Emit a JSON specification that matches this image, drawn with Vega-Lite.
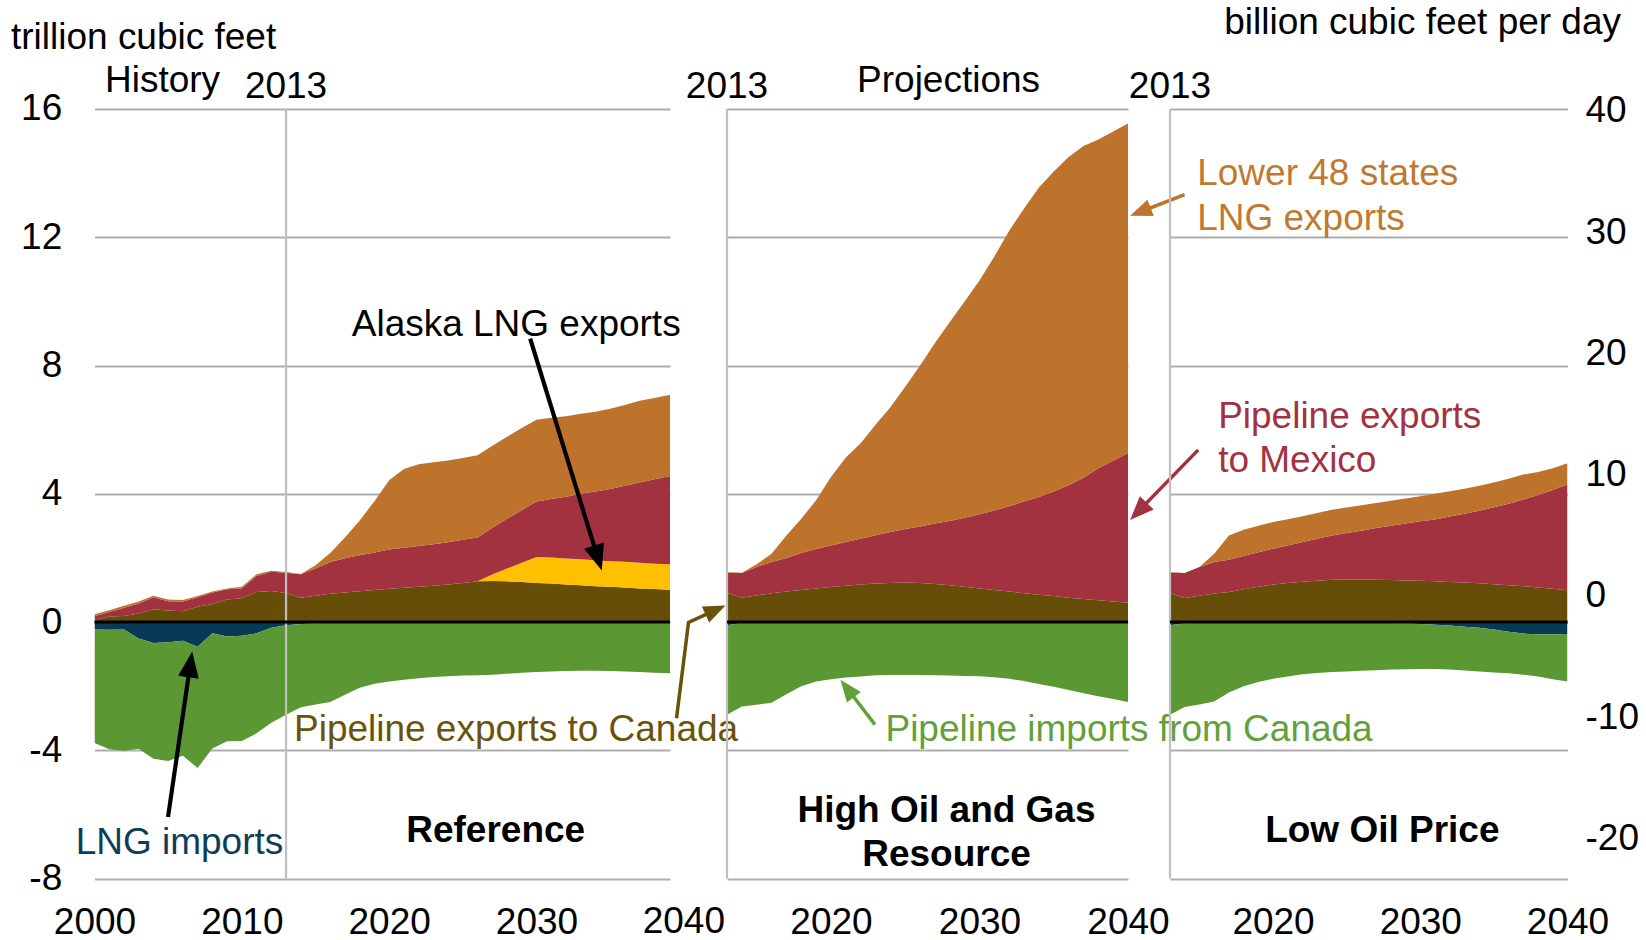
{
"$schema":"https://vega.github.io/schema/vega-lite/v6.json",
"autosize":{"type":"pad"},
"padding":{"left":10.5,"top":3,"right":4,"bottom":0},
"background":"white",
"config":{
  "font":"Liberation Sans",
  "view":{"stroke":null},
  "axis":{"domain":false,"ticks":false,"tickSize":0,"labelFontSize":37,"labelColor":"#000000","labelFlush":false,"labelOverlap":false,"gridColor":"#ADADAD","gridWidth":2.2,"titleFontSize":37,"titleFontWeight":"normal","titleColor":"#000000","labelExpr":"'' + datum.value"}
},
"datasets":{"flows":[
{"case":"Reference","year":2000,"p1":0.07,"p2":0,"p3":0.11,"p4":0.06,"n1":-0.23,"n2":-3.54},
{"case":"Reference","year":2001,"p1":0.17,"p2":0,"p3":0.14,"p4":0.06,"n1":-0.24,"n2":-3.73},
{"case":"Reference","year":2002,"p1":0.19,"p2":0,"p3":0.26,"p4":0.06,"n1":-0.23,"n2":-3.78},
{"case":"Reference","year":2003,"p1":0.27,"p2":0,"p3":0.31,"p4":0.06,"n1":-0.51,"n2":-3.44},
{"case":"Reference","year":2004,"p1":0.40,"p2":0,"p3":0.37,"p4":0.05,"n1":-0.65,"n2":-3.61},
{"case":"Reference","year":2005,"p1":0.36,"p2":0,"p3":0.29,"p4":0.05,"n1":-0.63,"n2":-3.70},
{"case":"Reference","year":2006,"p1":0.34,"p2":0,"p3":0.30,"p4":0.05,"n1":-0.58,"n2":-3.59},
{"case":"Reference","year":2007,"p1":0.48,"p2":0,"p3":0.29,"p4":0.04,"n1":-0.77,"n2":-3.78},
{"case":"Reference","year":2008,"p1":0.56,"p2":0,"p3":0.36,"p4":0.03,"n1":-0.35,"n2":-3.59},
{"case":"Reference","year":2009,"p1":0.70,"p2":0,"p3":0.32,"p4":0.03,"n1":-0.45,"n2":-3.27},
{"case":"Reference","year":2010,"p1":0.74,"p2":0,"p3":0.31,"p4":0.05,"n1":-0.43,"n2":-3.28},
{"case":"Reference","year":2011,"p1":0.94,"p2":0,"p3":0.50,"p4":0.05,"n1":-0.35,"n2":-3.12},
{"case":"Reference","year":2012,"p1":0.97,"p2":0,"p3":0.60,"p4":0.03,"n1":-0.18,"n2":-2.96},
{"case":"Reference","year":2013,"p1":0.91,"p2":0,"p3":0.63,"p4":0.02,"n1":-0.10,"n2":-2.79},
{"case":"Reference","year":2014,"p1":0.76,"p2":0,"p3":0.73,"p4":0.01,"n1":-0.06,"n2":-2.60},
{"case":"Reference","year":2015,"p1":0.82,"p2":0,"p3":0.85,"p4":0.10,"n1":-0.04,"n2":-2.53},
{"case":"Reference","year":2016,"p1":0.88,"p2":0,"p3":0.99,"p4":0.28,"n1":-0.02,"n2":-2.47},
{"case":"Reference","year":2017,"p1":0.92,"p2":0,"p3":1.07,"p4":0.65,"n1":-0.02,"n2":-2.25},
{"case":"Reference","year":2018,"p1":0.96,"p2":0,"p3":1.12,"p4":1.09,"n1":-0.02,"n2":-2.03},
{"case":"Reference","year":2019,"p1":1.00,"p2":0,"p3":1.17,"p4":1.60,"n1":-0.02,"n2":-1.90},
{"case":"Reference","year":2020,"p1":1.04,"p2":0,"p3":1.22,"p4":2.16,"n1":-0.02,"n2":-1.83},
{"case":"Reference","year":2021,"p1":1.07,"p2":0,"p3":1.25,"p4":2.45,"n1":-0.02,"n2":-1.78},
{"case":"Reference","year":2022,"p1":1.10,"p2":0,"p3":1.27,"p4":2.55,"n1":-0.02,"n2":-1.73},
{"case":"Reference","year":2023,"p1":1.13,"p2":0,"p3":1.30,"p4":2.55,"n1":-0.02,"n2":-1.69},
{"case":"Reference","year":2024,"p1":1.17,"p2":0,"p3":1.32,"p4":2.55,"n1":-0.02,"n2":-1.67},
{"case":"Reference","year":2025,"p1":1.22,"p2":0,"p3":1.35,"p4":2.55,"n1":-0.02,"n2":-1.65},
{"case":"Reference","year":2026,"p1":1.27,"p2":0,"p3":1.37,"p4":2.56,"n1":-0.02,"n2":-1.64},
{"case":"Reference","year":2027,"p1":1.28,"p2":0.20,"p3":1.46,"p4":2.56,"n1":-0.02,"n2":-1.62},
{"case":"Reference","year":2028,"p1":1.27,"p2":0.40,"p3":1.55,"p4":2.56,"n1":-0.02,"n2":-1.59},
{"case":"Reference","year":2029,"p1":1.25,"p2":0.60,"p3":1.64,"p4":2.56,"n1":-0.02,"n2":-1.56},
{"case":"Reference","year":2030,"p1":1.22,"p2":0.81,"p3":1.73,"p4":2.55,"n1":-0.02,"n2":-1.54},
{"case":"Reference","year":2031,"p1":1.20,"p2":0.81,"p3":1.83,"p4":2.53,"n1":-0.02,"n2":-1.52},
{"case":"Reference","year":2032,"p1":1.17,"p2":0.81,"p3":1.93,"p4":2.51,"n1":-0.02,"n2":-1.51},
{"case":"Reference","year":2033,"p1":1.15,"p2":0.81,"p3":2.04,"p4":2.50,"n1":-0.02,"n2":-1.50},
{"case":"Reference","year":2034,"p1":1.12,"p2":0.81,"p3":2.14,"p4":2.49,"n1":-0.02,"n2":-1.50},
{"case":"Reference","year":2035,"p1":1.10,"p2":0.80,"p3":2.25,"p4":2.50,"n1":-0.02,"n2":-1.51},
{"case":"Reference","year":2036,"p1":1.08,"p2":0.80,"p3":2.37,"p4":2.52,"n1":-0.02,"n2":-1.52},
{"case":"Reference","year":2037,"p1":1.05,"p2":0.80,"p3":2.50,"p4":2.55,"n1":-0.02,"n2":-1.54},
{"case":"Reference","year":2038,"p1":1.03,"p2":0.79,"p3":2.63,"p4":2.54,"n1":-0.02,"n2":-1.56},
{"case":"Reference","year":2039,"p1":1.01,"p2":0.79,"p3":2.75,"p4":2.53,"n1":-0.02,"n2":-1.58},
{"case":"Reference","year":2040,"p1":0.98,"p2":0.78,"p3":2.88,"p4":2.52,"n1":-0.02,"n2":-1.61},
{"case":"High","year":2013,"p1":0.91,"p2":0,"p3":0.63,"p4":0.02,"n1":-0.10,"n2":-2.79},
{"case":"High","year":2014,"p1":0.76,"p2":0,"p3":0.77,"p4":0.01,"n1":-0.03,"n2":-2.60},
{"case":"High","year":2015,"p1":0.83,"p2":0,"p3":0.89,"p4":0.08,"n1":-0.02,"n2":-2.56},
{"case":"High","year":2016,"p1":0.90,"p2":0,"p3":0.97,"p4":0.26,"n1":-0.02,"n2":-2.50},
{"case":"High","year":2017,"p1":0.95,"p2":0,"p3":1.05,"p4":0.70,"n1":-0.02,"n2":-2.23},
{"case":"High","year":2018,"p1":1.00,"p2":0,"p3":1.15,"p4":1.07,"n1":-0.02,"n2":-1.98},
{"case":"High","year":2019,"p1":1.05,"p2":0,"p3":1.23,"p4":1.52,"n1":-0.02,"n2":-1.83},
{"case":"High","year":2020,"p1":1.09,"p2":0,"p3":1.30,"p4":2.13,"n1":-0.02,"n2":-1.76},
{"case":"High","year":2021,"p1":1.13,"p2":0,"p3":1.37,"p4":2.63,"n1":-0.02,"n2":-1.71},
{"case":"High","year":2022,"p1":1.17,"p2":0,"p3":1.43,"p4":2.98,"n1":-0.02,"n2":-1.68},
{"case":"High","year":2023,"p1":1.20,"p2":0,"p3":1.51,"p4":3.44,"n1":-0.02,"n2":-1.64},
{"case":"High","year":2024,"p1":1.22,"p2":0,"p3":1.59,"p4":3.89,"n1":-0.02,"n2":-1.63},
{"case":"High","year":2025,"p1":1.23,"p2":0,"p3":1.67,"p4":4.44,"n1":-0.02,"n2":-1.63},
{"case":"High","year":2026,"p1":1.22,"p2":0,"p3":1.76,"p4":5.02,"n1":-0.02,"n2":-1.63},
{"case":"High","year":2027,"p1":1.19,"p2":0,"p3":1.88,"p4":5.63,"n1":-0.02,"n2":-1.64},
{"case":"High","year":2028,"p1":1.15,"p2":0,"p3":2.00,"p4":6.21,"n1":-0.02,"n2":-1.65},
{"case":"High","year":2029,"p1":1.10,"p2":0,"p3":2.15,"p4":6.75,"n1":-0.02,"n2":-1.66},
{"case":"High","year":2030,"p1":1.05,"p2":0,"p3":2.31,"p4":7.29,"n1":-0.02,"n2":-1.67},
{"case":"High","year":2031,"p1":1.00,"p2":0,"p3":2.48,"p4":7.92,"n1":-0.02,"n2":-1.70},
{"case":"High","year":2032,"p1":0.95,"p2":0,"p3":2.66,"p4":8.59,"n1":-0.02,"n2":-1.75},
{"case":"High","year":2033,"p1":0.90,"p2":0,"p3":2.86,"p4":9.14,"n1":-0.02,"n2":-1.82},
{"case":"High","year":2034,"p1":0.85,"p2":0,"p3":3.05,"p4":9.65,"n1":-0.02,"n2":-1.91},
{"case":"High","year":2035,"p1":0.81,"p2":0,"p3":3.26,"p4":9.98,"n1":-0.02,"n2":-2.00},
{"case":"High","year":2036,"p1":0.76,"p2":0,"p3":3.51,"p4":10.23,"n1":-0.02,"n2":-2.10},
{"case":"High","year":2037,"p1":0.72,"p2":0,"p3":3.78,"p4":10.35,"n1":-0.02,"n2":-2.20},
{"case":"High","year":2038,"p1":0.68,"p2":0,"p3":4.12,"p4":10.25,"n1":-0.02,"n2":-2.29},
{"case":"High","year":2039,"p1":0.64,"p2":0,"p3":4.39,"p4":10.27,"n1":-0.02,"n2":-2.38},
{"case":"High","year":2040,"p1":0.60,"p2":0,"p3":4.67,"p4":10.28,"n1":-0.02,"n2":-2.47},
{"case":"Low","year":2013,"p1":0.91,"p2":0,"p3":0.63,"p4":0.02,"n1":-0.10,"n2":-2.79},
{"case":"Low","year":2014,"p1":0.75,"p2":0,"p3":0.78,"p4":0.00,"n1":-0.04,"n2":-2.61},
{"case":"Low","year":2015,"p1":0.82,"p2":0,"p3":0.90,"p4":0.00,"n1":-0.03,"n2":-2.54},
{"case":"Low","year":2016,"p1":0.89,"p2":0,"p3":0.98,"p4":0.26,"n1":-0.03,"n2":-2.45},
{"case":"Low","year":2017,"p1":0.94,"p2":0,"p3":1.00,"p4":0.76,"n1":-0.03,"n2":-2.17},
{"case":"Low","year":2018,"p1":1.02,"p2":0,"p3":1.04,"p4":0.82,"n1":-0.03,"n2":-1.97},
{"case":"Low","year":2019,"p1":1.10,"p2":0,"p3":1.08,"p4":0.82,"n1":-0.03,"n2":-1.84},
{"case":"Low","year":2020,"p1":1.17,"p2":0,"p3":1.12,"p4":0.83,"n1":-0.03,"n2":-1.74},
{"case":"Low","year":2021,"p1":1.22,"p2":0,"p3":1.17,"p4":0.82,"n1":-0.03,"n2":-1.67},
{"case":"Low","year":2022,"p1":1.26,"p2":0,"p3":1.24,"p4":0.80,"n1":-0.03,"n2":-1.60},
{"case":"Low","year":2023,"p1":1.29,"p2":0,"p3":1.31,"p4":0.80,"n1":-0.03,"n2":-1.56},
{"case":"Low","year":2024,"p1":1.32,"p2":0,"p3":1.38,"p4":0.80,"n1":-0.03,"n2":-1.53},
{"case":"Low","year":2025,"p1":1.33,"p2":0,"p3":1.45,"p4":0.79,"n1":-0.03,"n2":-1.51},
{"case":"Low","year":2026,"p1":1.33,"p2":0,"p3":1.52,"p4":0.79,"n1":-0.03,"n2":-1.49},
{"case":"Low","year":2027,"p1":1.32,"p2":0,"p3":1.61,"p4":0.78,"n1":-0.03,"n2":-1.47},
{"case":"Low","year":2028,"p1":1.31,"p2":0,"p3":1.69,"p4":0.78,"n1":-0.03,"n2":-1.45},
{"case":"Low","year":2029,"p1":1.30,"p2":0,"p3":1.77,"p4":0.78,"n1":-0.04,"n2":-1.43},
{"case":"Low","year":2030,"p1":1.29,"p2":0,"p3":1.85,"p4":0.78,"n1":-0.06,"n2":-1.40},
{"case":"Low","year":2031,"p1":1.27,"p2":0,"p3":1.93,"p4":0.80,"n1":-0.08,"n2":-1.38},
{"case":"Low","year":2032,"p1":1.25,"p2":0,"p3":2.04,"p4":0.79,"n1":-0.11,"n2":-1.37},
{"case":"Low","year":2033,"p1":1.23,"p2":0,"p3":2.15,"p4":0.78,"n1":-0.15,"n2":-1.36},
{"case":"Low","year":2034,"p1":1.21,"p2":0,"p3":2.26,"p4":0.78,"n1":-0.18,"n2":-1.36},
{"case":"Low","year":2035,"p1":1.18,"p2":0,"p3":2.40,"p4":0.77,"n1":-0.23,"n2":-1.34},
{"case":"Low","year":2036,"p1":1.15,"p2":0,"p3":2.54,"p4":0.78,"n1":-0.30,"n2":-1.30},
{"case":"Low","year":2037,"p1":1.12,"p2":0,"p3":2.70,"p4":0.78,"n1":-0.36,"n2":-1.28},
{"case":"Low","year":2038,"p1":1.08,"p2":0,"p3":2.88,"p4":0.72,"n1":-0.38,"n2":-1.32},
{"case":"Low","year":2039,"p1":1.04,"p2":0,"p3":3.08,"p4":0.68,"n1":-0.38,"n2":-1.40},
{"case":"Low","year":2040,"p1":0.99,"p2":0,"p3":3.30,"p4":0.66,"n1":-0.37,"n2":-1.48}
]},
"spacing":56.5,
"bounds":"flush",
"hconcat":[
{
 "width":575.5,"height":769.6,
 "layer":[
  {"data":{"name":"flows"},
   "transform":[{"filter":"datum.case === 'Reference'"},{"fold":["p1","p2","p3","p4","n1","n2"],"as":["series","value"]}],
   "mark":{"type":"area","clip":true},
   "encoding":{
    "x":{"field":"year","type":"quantitative","scale":{"domain":[2000,2039.06],"nice":false,"zero":false},"axis":{"values":[2000,2010,2020,2030],"title":null,"labelPadding":54.5,"labelBaseline":"alphabetic","labelAlign":"center","grid":false}},
    "y":{"field":"value","type":"quantitative","stack":"zero","scale":{"domain":[-8,16],"nice":false,"zero":false},"axis":{"values":[-8,-4,0,4,8,12,16],"grid":true,"labelPadding":32.8,"labelBaseline":"middle","labelAlign":"right","title":"trillion cubic feet","titleAngle":0,"titleAlign":"left","titleBaseline":"alphabetic","titleX":-84,"titleY":-60.4}},
    "color":{"field":"series","type":"nominal","scale":{"domain":["p1","p2","p3","p4","n1","n2"],"range":["#664E08","#FFC000","#A33241","#BD732B","#073A55","#5B9834"]},"legend":null},
    "order":{"field":"series","type":"ordinal","sort":"ascending"}
   }},
  {"data":{"values":[{"year":2013}]},"mark":{"type":"rule","color":"#BFBFBF","strokeWidth":2.2},
   "encoding":{"x":{"field":"year","type":"quantitative","scale":{"domain":[2000,2039.06],"nice":false,"zero":false}}}},
  {"data":{"values":[{"value":0}]},"mark":{"type":"rule","color":"#000000","strokeWidth":3},
   "encoding":{"y":{"field":"value","type":"quantitative","scale":{"domain":[-8,16],"nice":false,"zero":false}}}},
  {"data":{"values":[{"label":"History","year":2000.71,"value":16.54}]},
   "mark":{"type":"text","align":"left","baseline":"alphabetic","fontSize":37,"color":"#000000"},
   "encoding":{"x":{"field":"year","type":"quantitative","scale":{"domain":[2000,2039.06],"nice":false,"zero":false}},"y":{"field":"value","type":"quantitative","scale":{"domain":[-8,16],"nice":false,"zero":false}},"text":{"field":"label"}}},
  {"data":{"values":[{"label":"2013","year":2013,"value":16.33},{"label":"2040","year":2040,"value":-9.69}]},
   "mark":{"type":"text","align":"center","baseline":"alphabetic","fontSize":37,"color":"#000000"},
   "encoding":{"x":{"field":"year","type":"quantitative","scale":{"domain":[2000,2039.06],"nice":false,"zero":false}},"y":{"field":"value","type":"quantitative","scale":{"domain":[-8,16],"nice":false,"zero":false}},"text":{"field":"label"}}},
  {"data":{"values":[{"label":"Alaska LNG exports","year":2017.46,"value":9.26}]},
   "mark":{"type":"text","align":"left","baseline":"middle","fontSize":37,"color":"#000000"},
   "encoding":{"x":{"field":"year","type":"quantitative","scale":{"domain":[2000,2039.06],"nice":false,"zero":false}},"y":{"field":"value","type":"quantitative","scale":{"domain":[-8,16],"nice":false,"zero":false}},"text":{"field":"label"}}},
  {"data":{"values":[{"label":"Pipeline exports to Canada","year":2013.54,"value":-3.36}]},
   "mark":{"type":"text","align":"left","baseline":"middle","fontSize":37,"color":"#6B5209"},
   "encoding":{"x":{"field":"year","type":"quantitative","scale":{"domain":[2000,2039.06],"nice":false,"zero":false}},"y":{"field":"value","type":"quantitative","scale":{"domain":[-8,16],"nice":false,"zero":false}},"text":{"field":"label"}}},
  {"data":{"values":[{"label":"LNG imports","year":1998.72,"value":-6.9}]},
   "mark":{"type":"text","align":"left","baseline":"middle","fontSize":37,"color":"#0E3D5A"},
   "encoding":{"x":{"field":"year","type":"quantitative","scale":{"domain":[2000,2039.06],"nice":false,"zero":false}},"y":{"field":"value","type":"quantitative","scale":{"domain":[-8,16],"nice":false,"zero":false}},"text":{"field":"label"}}},
  {"data":{"values":[{"label":"Reference","year":2027.23,"value":-6.51}]},
   "mark":{"type":"text","align":"center","baseline":"middle","fontSize":37,"fontWeight":"bold","color":"#000000"},
   "encoding":{"x":{"field":"year","type":"quantitative","scale":{"domain":[2000,2039.06],"nice":false,"zero":false}},"y":{"field":"value","type":"quantitative","scale":{"domain":[-8,16],"nice":false,"zero":false}},"text":{"field":"label"}}},
  {"data":{"values":[{"year":2029.57,"value":8.84,"year2":2034.22,"value2":1.91},{"year":2004.99,"value":-6.08,"year2":2006.53,"value2":-1.22}]},
   "mark":{"type":"rule","color":"#000000","strokeWidth":4.2},
   "encoding":{"x":{"field":"year","type":"quantitative","scale":{"domain":[2000,2039.06],"nice":false,"zero":false}},"y":{"field":"value","type":"quantitative","scale":{"domain":[-8,16],"nice":false,"zero":false}},"x2":{"field":"year2"},"y2":{"field":"value2"}}},
  {"data":{"values":[{"year":2034.43,"value":1.61}]},
   "mark":{"type":"point","shape":"M0,0L-0.8,2L0.8,2Z","filled":true,"color":"#000000","opacity":1,"size":676,"angle":162.6,"strokeWidth":0},
   "encoding":{"x":{"field":"year","type":"quantitative","scale":{"domain":[2000,2039.06],"nice":false,"zero":false}},"y":{"field":"value","type":"quantitative","scale":{"domain":[-8,16],"nice":false,"zero":false}}}},
  {"data":{"values":[{"year":2006.63,"value":-0.92}]},
   "mark":{"type":"point","shape":"M0,0L-0.8,2L0.8,2Z","filled":true,"color":"#000000","opacity":1,"size":676,"angle":8.3,"strokeWidth":0},
   "encoding":{"x":{"field":"year","type":"quantitative","scale":{"domain":[2000,2039.06],"nice":false,"zero":false}},"y":{"field":"value","type":"quantitative","scale":{"domain":[-8,16],"nice":false,"zero":false}}}}
 ]
},
{
 "spacing":42,
 "bounds":"flush",
 "hconcat":[
 {
  "width":401,"height":769.6,
  "layer":[
   {"data":{"name":"flows"},
    "transform":[{"filter":"datum.case === 'High'"},{"fold":["p1","p2","p3","p4","n1","n2"],"as":["series","value"]}],
    "mark":{"type":"area","clip":true},
    "encoding":{
     "x":{"field":"year","type":"quantitative","scale":{"domain":[2013,2040],"nice":false,"zero":false},"axis":{"values":[2020,2030,2040],"title":null,"labelPadding":54.5,"labelBaseline":"alphabetic","labelAlign":"center","grid":false}},
     "y":{"field":"value","type":"quantitative","stack":"zero","scale":{"domain":[-8,16],"nice":false,"zero":false},"axis":{"values":[-8,-4,0,4,8,12,16],"grid":true,"labels":false,"title":null}},
     "color":{"field":"series","type":"nominal","scale":{"domain":["p1","p2","p3","p4","n1","n2"],"range":["#664E08","#FFC000","#A33241","#BD732B","#073A55","#5B9834"]},"legend":null},
     "order":{"field":"series","type":"ordinal","sort":"ascending"}
    }},
   {"data":{"values":[{"year":2013}]},"mark":{"type":"rule","color":"#BFBFBF","strokeWidth":2.2},
    "encoding":{"x":{"field":"year","type":"quantitative","scale":{"domain":[2013,2040],"nice":false,"zero":false}}}},
   {"data":{"values":[{"value":0}]},"mark":{"type":"rule","color":"#000000","strokeWidth":3},
    "encoding":{"y":{"field":"value","type":"quantitative","scale":{"domain":[-8,16],"nice":false,"zero":false}}}},
   {"data":{"values":[{"label":"2013","year":2013,"value":16.33},{"label":"Projections","year":2027.92,"value":16.54}]},
    "mark":{"type":"text","align":"center","baseline":"alphabetic","fontSize":37,"color":"#000000"},
    "encoding":{"x":{"field":"year","type":"quantitative","scale":{"domain":[2013,2040],"nice":false,"zero":false}},"y":{"field":"value","type":"quantitative","scale":{"domain":[-8,16],"nice":false,"zero":false}},"text":{"field":"label"}}},
   {"data":{"values":[{"label":"High Oil and Gas","year":2027.78,"value":-5.89},{"label":"Resource","year":2027.78,"value":-7.26}]},
    "mark":{"type":"text","align":"center","baseline":"middle","fontSize":37,"fontWeight":"bold","color":"#000000"},
    "encoding":{"x":{"field":"year","type":"quantitative","scale":{"domain":[2013,2040],"nice":false,"zero":false}},"y":{"field":"value","type":"quantitative","scale":{"domain":[-8,16],"nice":false,"zero":false}},"text":{"field":"label"}}},
   {"data":{"values":[{"label":"Pipeline imports from Canada","year":2023.67,"value":-3.36}]},
    "mark":{"type":"text","align":"left","baseline":"middle","fontSize":37,"color":"#62A03A"},
    "encoding":{"x":{"field":"year","type":"quantitative","scale":{"domain":[2013,2040],"nice":false,"zero":false}},"y":{"field":"value","type":"quantitative","scale":{"domain":[-8,16],"nice":false,"zero":false}},"text":{"field":"label"}}},
   {"data":{"values":[{"year":2009.60,"value":-3.0},{"year":2010.41,"value":-0.01},{"year":2012.29,"value":0.39}]},
    "mark":{"type":"line","color":"#6B5209","strokeWidth":3.5,"strokeJoin":"miter"},
    "encoding":{"x":{"field":"year","type":"quantitative","scale":{"domain":[2013,2040],"nice":false,"zero":false}},"y":{"field":"value","type":"quantitative","scale":{"domain":[-8,16],"nice":false,"zero":false}}}},
   {"data":{"values":[{"year":2012.90,"value":0.52}]},
    "mark":{"type":"point","shape":"M0,0L-0.8,2L0.8,2Z","filled":true,"color":"#6B5209","opacity":1,"size":484,"angle":65.3,"strokeWidth":0},
    "encoding":{"x":{"field":"year","type":"quantitative","scale":{"domain":[2013,2040],"nice":false,"zero":false}},"y":{"field":"value","type":"quantitative","scale":{"domain":[-8,16],"nice":false,"zero":false}}}},
   {"data":{"values":[{"year":2022.96,"value":-3.2,"year2":2021.05,"value2":-2.04}]},
    "mark":{"type":"rule","color":"#62A03A","strokeWidth":3.5},
    "encoding":{"x":{"field":"year","type":"quantitative","scale":{"domain":[2013,2040],"nice":false,"zero":false}},"y":{"field":"value","type":"quantitative","scale":{"domain":[-8,16],"nice":false,"zero":false}},"x2":{"field":"year2"},"y2":{"field":"value2"}}},
   {"data":{"values":[{"year":2020.64,"value":-1.80}]},
    "mark":{"type":"point","shape":"M0,0L-0.8,2L0.8,2Z","filled":true,"color":"#62A03A","opacity":1,"size":484,"angle":-37.5,"strokeWidth":0},
    "encoding":{"x":{"field":"year","type":"quantitative","scale":{"domain":[2013,2040],"nice":false,"zero":false}},"y":{"field":"value","type":"quantitative","scale":{"domain":[-8,16],"nice":false,"zero":false}}}},
   {"data":{"values":[{"year":2043.81,"value":13.33,"year2":2040.76,"value2":12.78}]},
    "mark":{"type":"rule","color":"#BD732B","strokeWidth":3.5},
    "encoding":{"x":{"field":"year","type":"quantitative","scale":{"domain":[2013,2040],"nice":false,"zero":false}},"y":{"field":"value","type":"quantitative","scale":{"domain":[-8,16],"nice":false,"zero":false}},"x2":{"field":"year2"},"y2":{"field":"value2"}}},
   {"data":{"values":[{"year":2040.14,"value":12.67}]},
    "mark":{"type":"point","shape":"M0,0L-0.8,2L0.8,2Z","filled":true,"color":"#BD732B","opacity":1,"size":484,"angle":248.9,"strokeWidth":0},
    "encoding":{"x":{"field":"year","type":"quantitative","scale":{"domain":[2013,2040],"nice":false,"zero":false}},"y":{"field":"value","type":"quantitative","scale":{"domain":[-8,16],"nice":false,"zero":false}}}},
   {"data":{"values":[{"year":2044.73,"value":5.37,"year2":2040.61,"value2":3.41}]},
    "mark":{"type":"rule","color":"#A33241","strokeWidth":3.5},
    "encoding":{"x":{"field":"year","type":"quantitative","scale":{"domain":[2013,2040],"nice":false,"zero":false}},"y":{"field":"value","type":"quantitative","scale":{"domain":[-8,16],"nice":false,"zero":false}},"x2":{"field":"year2"},"y2":{"field":"value2"}}},
   {"data":{"values":[{"year":2040.14,"value":3.18}]},
    "mark":{"type":"point","shape":"M0,0L-0.8,2L0.8,2Z","filled":true,"color":"#A33241","opacity":1,"size":576,"angle":224.1,"strokeWidth":0},
    "encoding":{"x":{"field":"year","type":"quantitative","scale":{"domain":[2013,2040],"nice":false,"zero":false}},"y":{"field":"value","type":"quantitative","scale":{"domain":[-8,16],"nice":false,"zero":false}}}}
  ]
 },
 {
  "width":397.5,"height":769.6,
  "resolve":{"scale":{"y":"independent"}},
  "layer":[
   {"layer":[
    {"data":{"name":"flows"},
     "transform":[{"filter":"datum.case === 'Low'"},{"fold":["p1","p2","p3","p4","n1","n2"],"as":["series","value"]}],
     "mark":{"type":"area","clip":true},
     "encoding":{
      "x":{"field":"year","type":"quantitative","scale":{"domain":[2013,2040],"nice":false,"zero":false},"axis":{"values":[2020,2030,2040],"title":null,"labelPadding":54.5,"labelBaseline":"alphabetic","labelAlign":"center","grid":false}},
      "y":{"field":"value","type":"quantitative","stack":"zero","scale":{"domain":[-8,16],"nice":false,"zero":false},"axis":{"values":[-8,-4,0,4,8,12,16],"grid":true,"labels":false,"title":null}},
      "color":{"field":"series","type":"nominal","scale":{"domain":["p1","p2","p3","p4","n1","n2"],"range":["#664E08","#FFC000","#A33241","#BD732B","#073A55","#5B9834"]},"legend":null},
      "order":{"field":"series","type":"ordinal","sort":"ascending"}
     }},
    {"data":{"values":[{"year":2013}]},"mark":{"type":"rule","color":"#BFBFBF","strokeWidth":2.2},
     "encoding":{"x":{"field":"year","type":"quantitative","scale":{"domain":[2013,2040],"nice":false,"zero":false}}}},
    {"data":{"values":[{"value":0}]},"mark":{"type":"rule","color":"#000000","strokeWidth":3},
     "encoding":{"y":{"field":"value","type":"quantitative","scale":{"domain":[-8,16],"nice":false,"zero":false}}}},
    {"data":{"values":[{"label":"2013","year":2013,"value":16.33}]},
     "mark":{"type":"text","align":"center","baseline":"alphabetic","fontSize":37,"color":"#000000"},
     "encoding":{"x":{"field":"year","type":"quantitative","scale":{"domain":[2013,2040],"nice":false,"zero":false}},"y":{"field":"value","type":"quantitative","scale":{"domain":[-8,16],"nice":false,"zero":false}},"text":{"field":"label"}}},
    {"data":{"values":[{"label":"Low Oil Price","year":2027.42,"value":-6.51}]},
     "mark":{"type":"text","align":"center","baseline":"middle","fontSize":37,"fontWeight":"bold","color":"#000000"},
     "encoding":{"x":{"field":"year","type":"quantitative","scale":{"domain":[2013,2040],"nice":false,"zero":false}},"y":{"field":"value","type":"quantitative","scale":{"domain":[-8,16],"nice":false,"zero":false}},"text":{"field":"label"}}},
    {"data":{"values":[{"label":"Lower 48 states","year":2014.85,"value":13.98},{"label":"LNG exports","year":2014.85,"value":12.57}]},
     "mark":{"type":"text","align":"left","baseline":"middle","fontSize":37,"color":"#C07A30"},
     "encoding":{"x":{"field":"year","type":"quantitative","scale":{"domain":[2013,2040],"nice":false,"zero":false}},"y":{"field":"value","type":"quantitative","scale":{"domain":[-8,16],"nice":false,"zero":false}},"text":{"field":"label"}}},
    {"data":{"values":[{"label":"Pipeline exports","year":2016.27,"value":6.39},{"label":"to Mexico","year":2016.27,"value":5.01}]},
     "mark":{"type":"text","align":"left","baseline":"middle","fontSize":37,"color":"#A33241"},
     "encoding":{"x":{"field":"year","type":"quantitative","scale":{"domain":[2013,2040],"nice":false,"zero":false}},"y":{"field":"value","type":"quantitative","scale":{"domain":[-8,16],"nice":false,"zero":false}},"text":{"field":"label"}}}
   ]},
   {"data":{"values":[{"bcf":-23.3},{"bcf":40.15}]},
    "mark":{"type":"point","opacity":0},
    "encoding":{"y":{"field":"bcf","type":"quantitative","scale":{"domain":[-23.3,40.15],"nice":false,"zero":false},"axis":{"orient":"right","values":[-20,-10,0,10,20,30,40],"grid":false,"labelAlign":"left","labelPadding":17.5,"labelBaseline":"middle","title":"billion cubic feet per day","titleAngle":0,"titleAlign":"right","titleBaseline":"alphabetic","titleX":53,"titleY":-75.4}}}}
  ]
 }
 ]
}
]
}
